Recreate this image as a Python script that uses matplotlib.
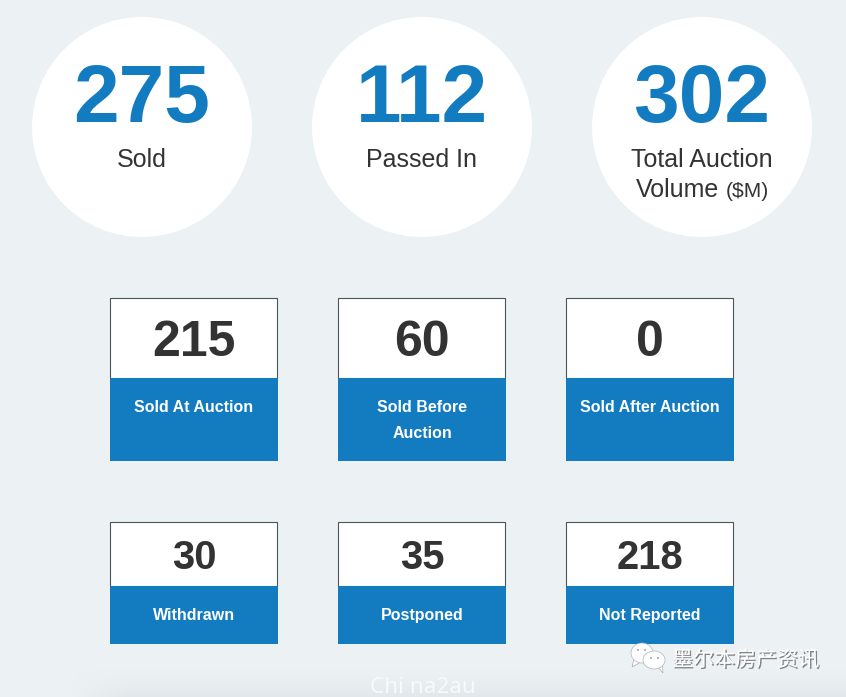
import numpy as np
import matplotlib
matplotlib.use('Agg')
import matplotlib.pyplot as plt
from matplotlib.patches import Circle, Rectangle, Ellipse, Polygon
from matplotlib.font_manager import FontProperties
import matplotlib.patheffects as pe

# values
circle_values = ['275', '112', '302']
circle_labels = ['Sold', 'Passed In', 'Total Auction']
top_values = ['215', '60', '0']
top_labels = [['Sold At Auction'], ['Sold Before', 'Auction'], ['Sold After Auction']]
bottom_values = ['30', '35', '218']
bottom_labels = ['Withdrawn', 'Postponed', 'Not Reported']

BG = '#ecf1f4'
BLUE = '#137cc1'
DARK = '#333333'


# sizes are given in pixels, figure is at dpi 100
def font(size, weight='normal'):
    return FontProperties(family='Liberation Sans', weight=weight, size=size * 0.72)


def drawBox(ax, x, y, boxH, splitH, value, labels, valueSize, valueY, labelY):
    w = 167
    ax.add_patch(Rectangle((x + 0.5, y), w, splitH, fc='white', ec='#4d5358', lw=0.8, zorder=2))
    ax.add_patch(Rectangle((x, y + splitH), w + 1, boxH - splitH, fc=BLUE, ec='none', zorder=3))
    ax.text(x + 84.5, valueY, value, fontproperties=font(valueSize, 'bold'),
            color=DARK, ha='center', va='baseline', zorder=4)
    for i, label in enumerate(labels):
        ax.text(x + 84.5, labelY + i * 26, label, fontproperties=font(16, 'bold'),
                color='white', ha='center', va='baseline', zorder=4)


def drawBubble(ax, cx, cy, rx, ry, tail):
    ax.add_patch(Polygon(tail, fc='white', ec='#9aa0a4', lw=0.4, zorder=5))
    ax.add_patch(Ellipse((cx, cy), rx * 2, ry * 2, fc='white', ec='#aeb4b8', lw=0.5, zorder=5))


fig = plt.figure(figsize=(8.46, 6.97), dpi=100, facecolor=BG)
ax = fig.add_axes([0, 0, 1, 1])
ax.axis('off')

# soft shadow along the bottom edge
grad = np.zeros((30, 846, 4))
grad[..., :3] = np.array([0.82, 0.85, 0.86])
rows = np.linspace(0, 1, 30) ** 1.6
cols = np.clip((np.arange(846) - 70) / 60, 0, 1)
grad[..., 3] = 0.4 * rows[:, None] * cols[None, :]
ax.imshow(grad, extent=(0, 846, 697, 667), aspect='auto', zorder=1)
ax.set_xlim(0, 846)
ax.set_ylim(697, 0)

# big circles
for cx, value, label in zip([142, 422, 702], circle_values, circle_labels):
    ax.add_patch(Circle((cx, 127), 110, fc='white', ec='none', zorder=2))
    ax.text(cx, 122, value, fontproperties=font(82, 'bold'), color=BLUE,
            ha='center', va='baseline', zorder=3)
    ax.text(cx, 167, label, fontproperties=font(25), color=DARK,
            ha='center', va='baseline', zorder=3)
ax.text(636, 197, 'Volume', fontproperties=font(25), color=DARK,
        ha='left', va='baseline', zorder=3)
ax.text(726, 197, '($M)', fontproperties=font(21), color=DARK,
        ha='left', va='baseline', zorder=3)

# boxes
for x, value, labels in zip([110, 338, 566], top_values, top_labels):
    drawBox(ax, x - 0.5, 297.5, 163.5, 80.5, value, labels, 50, 356, 412)
for x, value, label in zip([110, 338, 566], bottom_values, bottom_labels):
    drawBox(ax, x - 0.5, 521.5, 122.5, 64.5, value, [label], 40, 569, 620)

# watermark
drawBubble(ax, 642, 653, 11, 10, [(634, 659), (632, 667), (641, 662)])
drawBubble(ax, 654, 660, 11, 9, [(657, 666), (663, 673), (662, 663)])
for ex, ey in [(638, 650), (645, 650), (651, 658), (658, 658)]:
    ax.add_patch(Circle((ex, ey), 0.9, fc='#8a9095', ec='none', zorder=6))
ax.text(672, 660, '墨尔本房产资讯', fontsize=21 * 0.72, color='white',
        family=['Noto Sans CJK SC', 'DejaVu Sans'], ha='left', va='center', zorder=6,
        path_effects=[pe.withSimplePatchShadow(offset=(1, -1), shadow_rgbFace='#555555', alpha=0.7)])
ax.text(423, 693, 'Chi na2au', fontsize=22.5 * 0.72, color='#f7f9fa', family='Noto Sans',
        ha='center', va='baseline', zorder=6)

fig.savefig('out.png', dpi=100, facecolor=BG)
